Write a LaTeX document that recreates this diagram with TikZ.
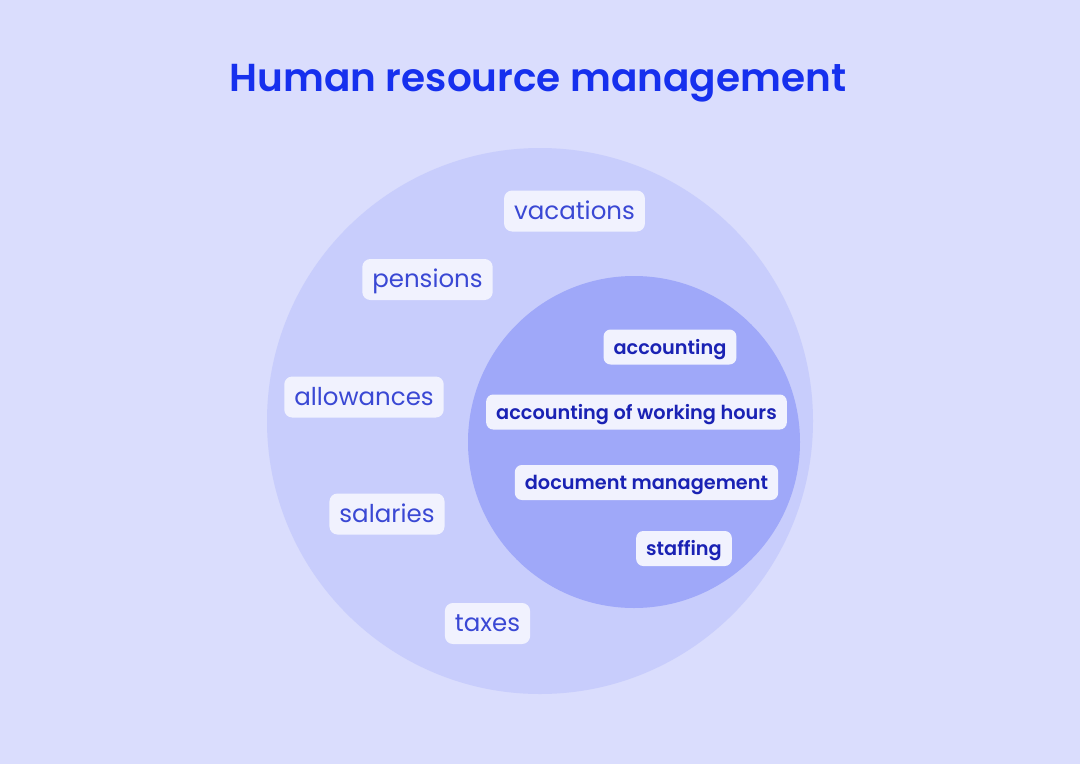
\documentclass[tikz,border=0pt]{standalone}
\usepackage{fontspec}
\setmainfont{Poppins}
\newfontfamily\semib{Poppins SemiBold}
\definecolor{bg}{HTML}{DADDFD}
\definecolor{outerc}{HTML}{C8CDFC}
\definecolor{innerc}{HTML}{9FA8F9}
\definecolor{boxc}{HTML}{F1F2FE}
\definecolor{titlec}{HTML}{1630EE}
\definecolor{outtext}{HTML}{3A48D4}
\definecolor{intext}{HTML}{1A22B4}
\tikzset{
  outlabel/.style={fill=boxc, rounded corners=8pt, text=outtext, font=\fontsize{24.5}{28}\selectfont, text height=19.5pt, text depth=3.1pt, minimum height=41pt, inner xsep=10pt, inner ysep=0pt, anchor=center},
  inlabel/.style={fill=boxc, rounded corners=7pt, text=intext, font=\semib\fontsize{19.3}{22}\selectfont, text height=17pt, text depth=2.6pt, minimum height=35pt, inner xsep=10pt, inner ysep=0pt, anchor=center},
}
\begin{document}
\begin{tikzpicture}[x=1pt,y=-1pt]
\fill[bg] (0,0) rectangle (1080,764);
\useasboundingbox (0,0) rectangle (1080,764);
\node[font=\semib\fontsize{39}{46}\selectfont, text=titlec] (title) at (538,83) {Human resource management};
\fill[outerc] (540,421) circle (273);
\fill[innerc] (634,442) circle (166);
\node[outlabel] (vac) at (574.5,211) {vacations};
\node[outlabel] (pen) at (427.5,279.5) {pensions};
\node[outlabel] (all) at (364,397) {allowances};
\node[outlabel] (sal) at (387,514) {salaries};
\node[outlabel] (tax) at (487.5,623.5) {taxes};
\node[inlabel] (acc) at (670,347) {accounting};
\node[inlabel] (awh) at (636.5,412) {accounting of working hours};
\node[inlabel] (doc) at (646.5,482.5) {document management};
\node[inlabel] (sta) at (684,548.5) {staffing};
\end{tikzpicture}
\end{document}
